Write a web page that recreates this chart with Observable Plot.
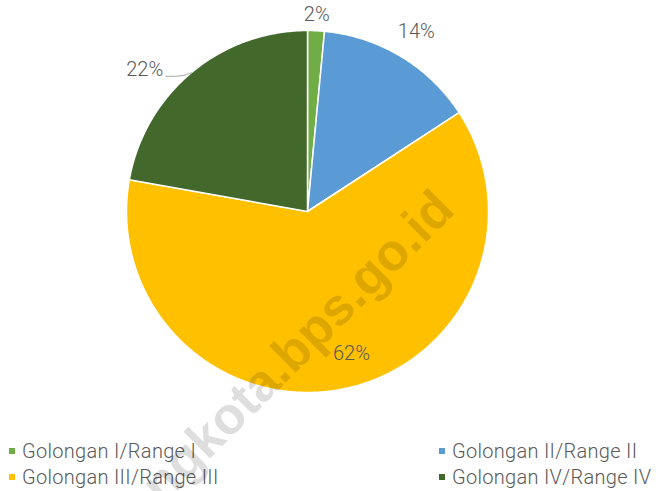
<!DOCTYPE html>
<html>
<head>
<meta charset="utf-8">
<script src="https://cdn.jsdelivr.net/npm/d3@7"></script>
<script src="https://cdn.jsdelivr.net/npm/@observablehq/plot@0.6"></script>
<style>
  body { margin: 0; background: #fff; }
  #wrap { position: relative; width: 670px; height: 491px; overflow: hidden; font-family: Roboto, "DejaVu Sans", sans-serif; }
  #chart { position: absolute; left: 0; top: 0; }
  #legend { position: absolute; left: 0; top: 439px; width: 670px; display: grid; grid-template-columns: 430px 240px; row-gap: 2px; font-size: 20px; font-weight: 300; letter-spacing: 0.3px; color: #595959; }
  #legend .item { display: flex; align-items: center; padding-left: 9px; height: 24px; white-space: nowrap; }
  #legend .sw { width: 6px; height: 6px; margin-right: 7px; flex: none; }
  #wm { position: absolute; left: 444px; top: 199px; line-height: 1.15; transform-origin: 100% 50%; transform: translate(-100%, -50%) rotate(-45deg); font: bold 52px "Liberation Sans", Arial, sans-serif; color: rgba(0,0,0,0.13); white-space: nowrap; pointer-events: none; }
</style>
</head>
<body>
<div id="wrap"><div id="chart"></div><div id="legend"></div><div id="wm"></div></div>
<script>
const categories = ["Golongan I/Range I", "Golongan II/Range II", "Golongan III/Range III", "Golongan IV/Range IV"];
const values = [1.5, 14.3, 62.0, 22.2];
const colors = ["#70AD47", "#5B9BD5", "#FFC000", "#43682B"];
const watermark = "tangerangkota.bps.go.id";

const W = 670, H = 430, cx = 307, cy = 211, R = 181;
const arcs = d3.pie().sort(null).value(d => d.value)(categories.map((c, i) => ({category: c, value: values[i]})));

// polygon points for each slice (unit radius, angle clockwise from top)
const pts = [];
arcs.forEach(a => {
  const c = a.data.category;
  pts.push({category: c, x: 0, y: 0});
  const n = Math.max(4, Math.ceil((a.endAngle - a.startAngle) / 0.01));
  for (let k = 0; k <= n; k++) {
    const t = a.startAngle + (a.endAngle - a.startAngle) * k / n;
    pts.push({category: c, x: Math.sin(t), y: Math.cos(t)});
  }
  pts.push({category: c, x: 0, y: 0});
});

// labels
const labelsMid = [], labelsEnd = [], leaders = [];
arcs.forEach(a => {
  const m = (a.startAngle + a.endAngle) / 2;
  const pct = Math.round(a.data.value) + "%";
  const inside = a.data.value > 30;
  if (inside) {
    labelsMid.push({text: pct, x: 0.82 * Math.sin(m - 0.1), y: 0.82 * Math.cos(m - 0.1)});
  } else if (Math.sin(m) < 0) {
    const px = Math.sin(m), py = Math.cos(m);
    leaders.push({x: px, y: py}, {x: px - 0.05, y: py - 0.02}, {x: px - 0.14, y: py - 0.02});
    labelsEnd.push({text: pct, x: px - 0.155, y: py + 0.02});
  } else {
    const r = 1.08 + 0.16 * Math.abs(Math.sin(m));
    labelsMid.push({text: pct, x: r * Math.sin(m), y: r * Math.cos(m)});
  }
});

const txt = {x: "x", y: "y", text: "text", fill: "#595959", fontSize: 20, fontWeight: 300, fontFamily: "Roboto, 'DejaVu Sans', sans-serif"};
const chart = Plot.plot({
  width: W, height: H,
  margin: 0,
  x: {domain: [-cx / R, (W - cx) / R], axis: null},
  y: {domain: [-(H - cy) / R, cy / R], axis: null},
  color: {domain: categories, range: colors},
  style: {background: "transparent", overflow: "visible"},
  marks: [
    Plot.line(pts, {x: "x", y: "y", z: "category", fill: "category", stroke: "#fff", strokeWidth: 1.5, strokeLinejoin: "round"}),
    Plot.line(leaders, {x: "x", y: "y", stroke: "#a6a6a6", strokeWidth: 1, curve: "basis"}),
    Plot.text(labelsMid, {...txt, textAnchor: "middle"}),
    Plot.text(labelsEnd, {...txt, textAnchor: "end"})
  ]
});
document.getElementById("chart").appendChild(chart);

const lg = document.getElementById("legend");
[0, 1, 2, 3].forEach(i => {
  const it = document.createElement("div");
  it.className = "item";
  const sw = document.createElement("span");
  sw.className = "sw";
  sw.style.background = colors[i];
  it.appendChild(sw);
  it.appendChild(document.createTextNode(categories[i]));
  lg.appendChild(it);
});
document.getElementById("wm").textContent = watermark;
</script>
</body>
</html>
